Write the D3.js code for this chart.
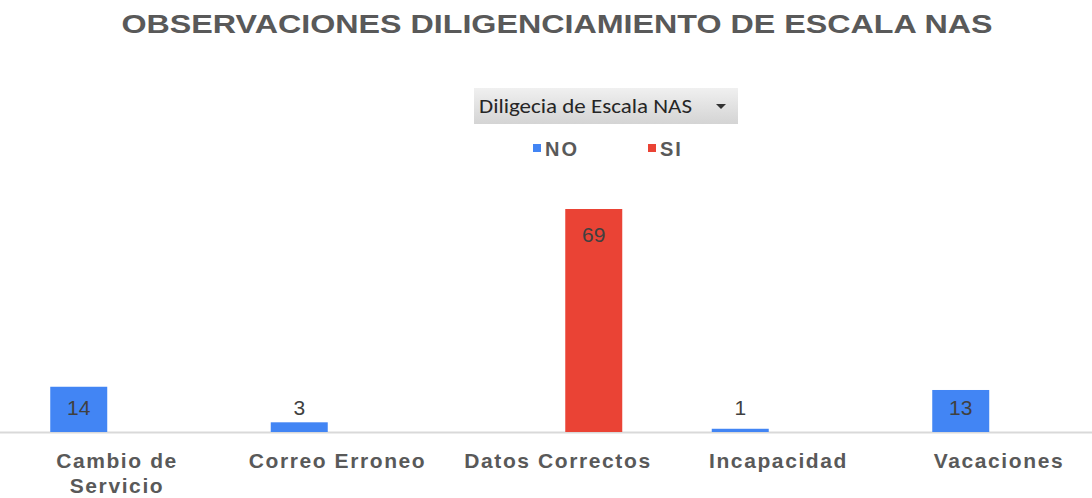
<!DOCTYPE html>
<html>
<head>
<meta charset="utf-8">
<script src="https://cdn.jsdelivr.net/npm/d3@7"></script>
<style>
  html, body { margin: 0; padding: 0; background: #fff; }
  svg { display: block; }
</style>
</head>
<body>
<div id="chart"></div>
<script>
const width = 1092;
const height = 498;

const categories = ["Cambio de Servicio", "Correo Erroneo", "Datos Correctos", "Incapacidad", "Vacaciones"];
const seriesNames = ["NO", "SI"];
const valuesNO = [14, 3, null, 1, 13];
const valuesSI = [null, null, 69, null, null];
const seriesColors = ["#4285F4", "#EA4335"];
const titleText = "OBSERVACIONES DILIGENCIAMIENTO DE ESCALA NAS";
const filterText = "Diligecia de Escala NAS";

const baseline = 432;

const svg = d3.select("#chart").append("svg")
    .attr("width", width)
    .attr("height", height)
    .style("font-family", "'Liberation Sans', Arial, sans-serif");

svg.append("text")
    .attr("x", 557)
    .attr("y", 33)
    .attr("text-anchor", "middle")
    .attr("textLength", 871)
    .attr("lengthAdjust", "spacingAndGlyphs")
    .style("font-size", "26px")
    .style("font-weight", "bold")
    .style("fill", "#595959")
    .text(titleText);

// pivot filter button
const defs = svg.append("defs");
const grad = defs.append("linearGradient")
    .attr("id", "btn")
    .attr("x1", 0).attr("y1", 0).attr("x2", 0).attr("y2", 1);
grad.append("stop").attr("offset", "0%").attr("stop-color", "#f0f0f0");
grad.append("stop").attr("offset", "100%").attr("stop-color", "#d4d4d4");

const btn = svg.append("g").attr("transform", "translate(474, 88)");
btn.append("rect")
    .attr("width", 264)
    .attr("height", 36)
    .attr("fill", "url(#btn)");
btn.append("text")
    .attr("x", 5)
    .attr("y", 25)
    .attr("textLength", 213)
    .attr("lengthAdjust", "spacingAndGlyphs")
    .style("font-family", "Carlito, Calibri, 'Liberation Sans Narrow', sans-serif")
    .style("font-size", "20px")
    .style("fill", "#262626")
    .text(filterText);
btn.append("path")
    .attr("d", "M242,16 L252,16 L247,21 Z")
    .attr("fill", "#333");

// legend
const legendX = [533, 648];
const legend = svg.append("g");
seriesNames.forEach((name, i) => {
    legend.append("rect")
        .attr("x", legendX[i])
        .attr("y", 144)
        .attr("width", 8)
        .attr("height", 8)
        .attr("fill", seriesColors[i]);
    legend.append("text")
        .attr("x", legendX[i] + 12)
        .attr("y", 156)
        .style("font-size", "20px")
        .style("font-weight", "bold")
        .style("letter-spacing", "2px")
        .style("fill", "#595959")
        .text(name);
});

const x0 = d3.scaleBand()
    .domain(categories)
    .range([5.75, 5.75 + 220.5 * categories.length])
    .padding(0);

const x1 = d3.scaleBand()
    .domain(seriesNames)
    .range([44.5, 175.5])
    .paddingInner(0.23)
    .paddingOuter(0);

const y = d3.scaleLinear()
    .domain([0, 69])
    .range([baseline, 209]);

// axis line
svg.append("line")
    .attr("x1", 0)
    .attr("x2", width)
    .attr("y1", baseline + 0.5)
    .attr("y2", baseline + 0.5)
    .attr("stroke", "#d9d9d9")
    .attr("stroke-width", 2);

const barData = [];
categories.forEach((c, i) => {
    [valuesNO[i], valuesSI[i]].forEach((v, s) => {
        if (v != null) barData.push({ category: c, series: seriesNames[s], value: v, color: seriesColors[s] });
    });
});

const bars = svg.append("g");
bars.selectAll("rect")
    .data(barData)
    .join("rect")
    .attr("x", d => x0(d.category) + x1(d.series))
    .attr("y", d => y(d.value))
    .attr("width", x1.bandwidth())
    .attr("height", d => baseline - y(d.value))
    .attr("fill", d => d.color);

bars.selectAll("text")
    .data(barData)
    .join("text")
    .attr("x", d => x0(d.category) + x1(d.series) + x1.bandwidth() / 2)
    .attr("y", d => Math.min(y(d.value) + 33, baseline - 17))
    .attr("text-anchor", "middle")
    .style("font-size", "21px")
    .style("fill", "#404040")
    .text(d => d.value);

// category labels
const labels = svg.append("g");
const wrapped = { "Cambio de Servicio": ["Cambio de", "Servicio"] };
categories.forEach(c => {
    const lines = wrapped[c] || [c];
    const cx = x0(c) + x0.bandwidth() / 2 + 1;
    const t = labels.append("text")
        .attr("x", cx)
        .attr("y", 468)
        .attr("text-anchor", "middle")
        .style("font-size", "21px")
        .style("font-weight", "bold")
        .style("letter-spacing", "1.6px")
        .style("fill", "#595959");
    lines.forEach((ln, k) => {
        t.append("tspan")
            .attr("x", cx)
            .attr("dy", k === 0 ? 0 : 25)
            .text(ln);
    });
});
</script>
</body>
</html>
